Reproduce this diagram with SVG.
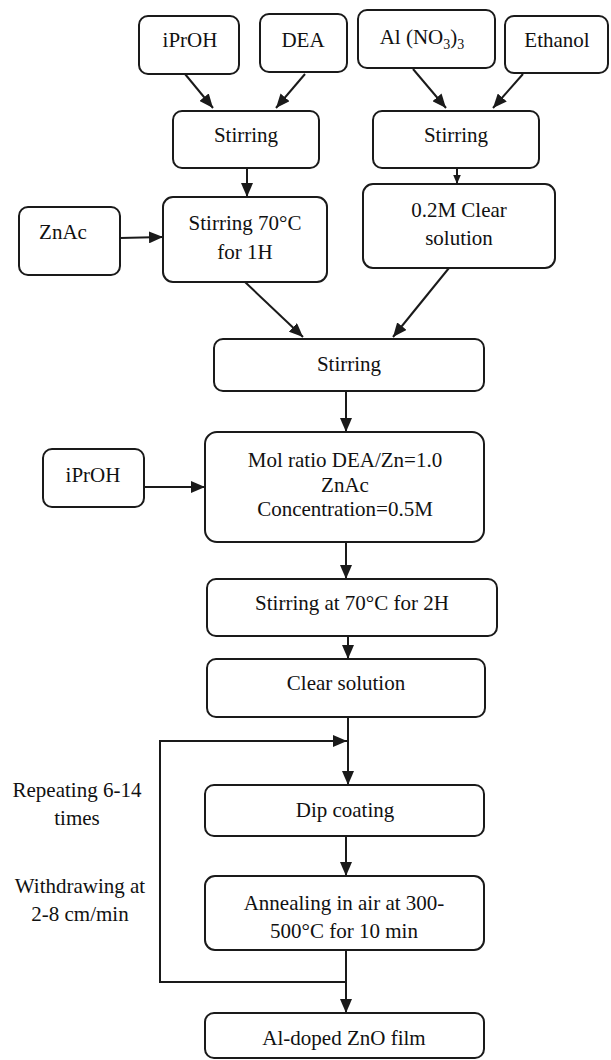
<svg xmlns="http://www.w3.org/2000/svg" width="611" height="1060" viewBox="0 0 611 1060" font-family="'Liberation Serif', 'Times New Roman', serif">
<defs>
<style>
.box{fill:#fff;stroke:#1a1a1a;stroke-width:2}
.t{font-family:'Liberation Serif','Times New Roman',serif;font-size:21px;fill:#111;text-anchor:middle}
.c{fill:none;stroke:#1a1a1a;stroke-width:2}
</style>
<marker id="ah" viewBox="0 0 14 12" markerWidth="14" markerHeight="12" refX="14" refY="6" orient="auto" markerUnits="userSpaceOnUse">
<path d="M0,0 L14,6 L0,12 z" fill="#1a1a1a"/>
</marker>
<marker id="ahs" viewBox="0 0 13 11" markerWidth="9" markerHeight="8" refX="13" refY="5.5" orient="auto" markerUnits="userSpaceOnUse">
<path d="M0,0 L13,5.5 L0,11 z" fill="#1a1a1a"/>
</marker>
</defs>
<rect width="611" height="1060" fill="#fff"/>

<g id="connectors">
<path class="c" d="M185,74 L213,108" marker-end="url(#ah)"/>
<path class="c" d="M305,74 L276,108" marker-end="url(#ah)"/>
<path class="c" d="M413,69 L446,108" marker-end="url(#ah)"/>
<path class="c" d="M523,74 L493,108" marker-end="url(#ah)"/>
<path class="c" d="M247,168 L247,197" marker-end="url(#ah)"/>
<path class="c" d="M457,168 L457,184" marker-end="url(#ahs)"/>
<path class="c" d="M120,238 L163,237" marker-end="url(#ah)"/>
<path class="c" d="M245,282 L303,337" marker-end="url(#ah)"/>
<path class="c" d="M449,268 L393,337" marker-end="url(#ah)"/>
<path class="c" d="M346,391 L346,432" marker-end="url(#ah)"/>
<path class="c" d="M144,487 L205,487" marker-end="url(#ah)"/>
<path class="c" d="M346,542 L346,579" marker-end="url(#ah)"/>
<path class="c" d="M348,636 L348,659" marker-end="url(#ah)"/>
<path class="c" d="M348,717 L348,785" marker-end="url(#ah)"/>
<path class="c" d="M346,836 L346,876" marker-end="url(#ah)"/>
<path class="c" d="M346,950 L346,1013" marker-end="url(#ah)"/>
<path class="c" d="M346,982 L160,982 L160,741 L347,741" marker-end="url(#ah)"/>
</g>

<g id="n-iproh1"><rect class="box" x="139" y="16" width="100" height="58" rx="9"/><text class="t" x="190" y="47">iPrOH</text></g>
<g id="n-dea"><rect class="box" x="260" y="14" width="87" height="58" rx="9"/><text class="t" x="303" y="47">DEA</text></g>
<g id="n-alno3"><rect class="box" x="358" y="10" width="137" height="58" rx="9"/><text class="t" x="422" y="44">Al (NO<tspan dy="5" font-size="14">3</tspan><tspan dy="-5">)</tspan><tspan dy="5" font-size="14">3</tspan></text></g>
<g id="n-ethanol"><rect class="box" x="505" y="16" width="103" height="57" rx="9"/><text class="t" x="557" y="47">Ethanol</text></g>
<g id="n-stir-l"><rect class="box" x="173" y="111" width="146" height="57" rx="9"/><text class="t" x="246" y="142">Stirring</text></g>
<g id="n-stir-r"><rect class="box" x="373" y="111" width="166" height="57" rx="9"/><text class="t" x="456" y="142">Stirring</text></g>
<g id="n-znac"><rect class="box" x="19" y="207" width="101" height="68" rx="9"/><text class="t" x="63" y="239">ZnAc</text></g>
<g id="n-stir70"><rect class="box" x="163" y="197" width="164" height="85" rx="10"/><text class="t" x="245" y="230">Stirring 70°C</text><text class="t" x="245" y="259">for 1H</text></g>
<g id="n-clear02"><rect class="box" x="363" y="184" width="192" height="84" rx="10"/><text class="t" x="459" y="217">0.2M Clear</text><text class="t" x="459" y="245">solution</text></g>
<g id="n-stir-m"><rect class="box" x="214" y="339" width="270" height="52" rx="9"/><text class="t" x="349" y="371">Stirring</text></g>
<g id="n-iproh2"><rect class="box" x="43" y="449" width="101" height="58" rx="9"/><text class="t" x="93" y="482">iPrOH</text></g>
<g id="n-mol"><rect class="box" x="205" y="432" width="279" height="110" rx="12"/><text class="t" x="345" y="467">Mol ratio DEA/Zn=1.0</text><text class="t" x="345" y="492">ZnAc</text><text class="t" x="345" y="516">Concentration=0.5M</text></g>
<g id="n-stir2h"><rect class="box" x="207" y="579" width="290" height="57" rx="9"/><text class="t" x="352" y="610">Stirring at 70°C for 2H</text></g>
<g id="n-clear"><rect class="box" x="207" y="659" width="278" height="58" rx="9"/><text class="t" x="346" y="690">Clear solution</text></g>
<g id="n-dip"><rect class="box" x="205" y="785" width="279" height="51" rx="9"/><text class="t" x="345" y="817">Dip coating</text></g>
<g id="n-anneal"><rect class="box" x="205" y="876" width="279" height="74" rx="10"/><text class="t" x="344" y="910">Annealing in air at 300-</text><text class="t" x="344" y="938">500°C for 10 min</text></g>
<g id="n-film"><rect class="box" x="205" y="1013" width="279" height="45" rx="9"/><text class="t" x="344" y="1045">Al-doped ZnO film</text></g>

<g id="labels">
<text class="t" x="77" y="797">Repeating 6-14</text>
<text class="t" x="77" y="825">times</text>
<text class="t" x="80" y="893">Withdrawing at</text>
<text class="t" x="80" y="921">2-8 cm/min</text>
</g>
</svg>
